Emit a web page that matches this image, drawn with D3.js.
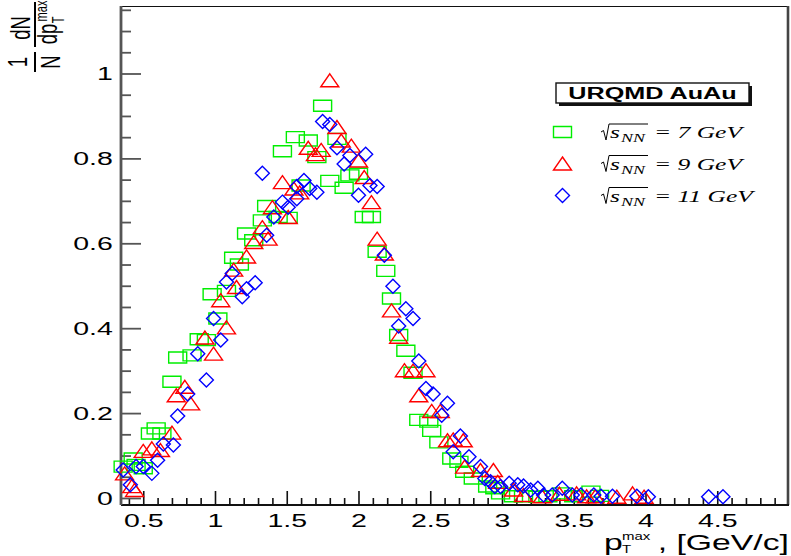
<!DOCTYPE html>
<html><head><meta charset="utf-8">
<script src="https://cdn.jsdelivr.net/npm/d3@7"></script>
<style>
html,body{margin:0;padding:0;background:#fff;}
svg{display:block;}
</style></head><body>
<svg id="c" width="791" height="556"></svg>
<script>
// Axis ticks and labels
const xTickValues = [0.5, 1, 1.5, 2, 2.5, 3, 3.5, 4, 4.5];
const xTickLabels = ["0.5", "1", "1.5", "2", "2.5", "3", "3.5", "4", "4.5"];
const yTickValues = [0, 0.2, 0.4, 0.6, 0.8, 1];
const yTickLabels = ["0", "0.2", "0.4", "0.6", "0.8", "1"];
const energies = ["7", "9", "11"];

// (pT^max [GeV/c], 1/N dN/dpT^max) for each beam energy
const pt7 = [[0.36,0.074],[0.43,0.093],[0.45,0.078],[0.50,0.070],[0.55,0.152],[0.59,0.164],[0.63,0.152],[0.70,0.274],[0.74,0.331],[0.84,0.336],[0.89,0.374],[0.94,0.372],[0.98,0.48],[1.02,0.423],[1.08,0.488],[1.13,0.566],[1.17,0.55],[1.22,0.623],[1.27,0.607],[1.33,0.654],[1.36,0.688],[1.44,0.662],[1.47,0.817],[1.51,0.66],[1.56,0.85],[1.60,0.736],[1.65,0.842],[1.71,0.803],[1.75,0.924],[1.80,0.747],[1.85,0.846],[1.90,0.731],[1.94,0.76],[2.00,0.764],[2.04,0.662],[2.09,0.662],[2.13,0.58],[2.19,0.535],[2.23,0.47],[2.28,0.384],[2.33,0.347],[2.38,0.295],[2.42,0.184],[2.49,0.18],[2.51,0.158],[2.56,0.131],[2.65,0.093],[2.70,0.085],[2.74,0.062],[2.80,0.046],[2.90,0.027],[2.95,0.023],[2.99,0.011],[3.08,0.004],[3.15,0.004],[3.25,0.003],[3.32,0.004],[3.42,0.011],[3.50,0.004],[3.62,0.015],[3.68,0.005]];
const pt9 = [[0.37,0.058],[0.42,0.028],[0.44,0.019],[0.50,0.111],[0.56,0.117],[0.62,0.113],[0.70,0.154],[0.73,0.242],[0.79,0.262],[0.83,0.223],[0.93,0.378],[0.99,0.34],[1.04,0.466],[1.08,0.402],[1.13,0.538],[1.15,0.497],[1.22,0.569],[1.27,0.603],[1.33,0.638],[1.37,0.611],[1.40,0.685],[1.47,0.744],[1.51,0.662],[1.55,0.729],[1.59,0.72],[1.65,0.825],[1.70,0.81],[1.74,0.82],[1.80,0.984],[1.85,0.874],[1.88,0.842],[1.95,0.83],[2.00,0.795],[2.04,0.756],[2.09,0.697],[2.13,0.611],[2.18,0.576],[2.23,0.442],[2.28,0.38],[2.32,0.301],[2.38,0.30],[2.42,0.242],[2.47,0.301],[2.51,0.205],[2.57,0.205],[2.62,0.136],[2.66,0.138],[2.73,0.136],[2.74,0.074],[2.85,0.066],[2.94,0.066],[2.97,0.038],[3.08,0.02],[3.15,0.007],[3.28,0.004],[3.40,0.01],[3.52,0.011],[3.59,0.004],[3.65,0.004],[3.80,0.003],[3.91,0.011],[3.99,0.003]];
const pt11 = [[0.36,0.066],[0.41,0.031],[0.45,0.074],[0.50,0.074],[0.56,0.058],[0.60,0.089],[0.64,0.127],[0.71,0.125],[0.74,0.193],[0.81,0.245],[0.88,0.34],[0.94,0.278],[0.99,0.423],[1.04,0.372],[1.08,0.509],[1.12,0.529],[1.19,0.474],[1.22,0.493],[1.28,0.507],[1.33,0.765],[1.36,0.619],[1.41,0.662],[1.47,0.697],[1.51,0.685],[1.57,0.705],[1.57,0.734],[1.62,0.748],[1.66,0.729],[1.71,0.72],[1.75,0.887],[1.80,0.88],[1.85,0.825],[1.90,0.787],[1.94,0.807],[2.00,0.713],[2.05,0.81],[2.08,0.736],[2.13,0.734],[2.18,0.572],[2.24,0.499],[2.28,0.405],[2.33,0.446],[2.38,0.423],[2.42,0.323],[2.47,0.258],[2.52,0.245],[2.58,0.195],[2.62,0.223],[2.66,0.109],[2.71,0.146],[2.77,0.097],[2.85,0.074],[2.88,0.046],[2.92,0.038],[2.95,0.027],[2.99,0.027],[3.05,0.035],[3.11,0.031],[3.15,0.028],[3.20,0.019],[3.25,0.023],[3.29,0.007],[3.35,0.007],[3.42,0.023],[3.49,0.007],[3.55,0.007],[3.64,0.007],[3.69,0.004],[3.77,0.004],[3.94,0.004],[4.02,0.003],[4.44,0.003],[4.54,0.003]];

const plot = {left: 121, right: 789, top: 6, bottom: 505};
const SX = 1.5;                 // horizontal stretch of all lettering
const SANS = "'Liberation Sans', Arial, Helvetica, sans-serif";
const SERIF = "'Liberation Serif', 'Times New Roman', serif";

const x = d3.scaleLinear().domain([0.345, 5.0]).range([plot.left, plot.right]);
const y = d3.scaleLinear().domain([-0.0165, 1.159]).range([plot.bottom, plot.top]);

const svg = d3.select("#c");
svg.append("rect").attr("width", 791).attr("height", 556).attr("fill", "#fff");

// ---- axes ----
const xMinor = d3.range(4, 50).map(v => v / 10).filter(v => Math.abs(v * 2 - Math.round(v * 2)) > 1e-6);
const yMinor = d3.range(0, 24).map(v => v * 0.05).filter(v => Math.abs(v * 5 - Math.round(v * 5)) > 1e-6 && v <= 1.159);

const gxMinor = svg.append("g").attr("transform", `translate(0,${plot.bottom})`)
  .call(d3.axisBottom(x).tickValues(xMinor).tickSize(-7).tickSizeOuter(0).tickFormat(""));
const gxMajor = svg.append("g").attr("transform", `translate(0,${plot.bottom})`)
  .call(d3.axisBottom(x).tickValues(xTickValues).tickSize(-14).tickSizeOuter(0).tickPadding(9)
    .tickFormat((d, i) => xTickLabels[i]));
const gyMinor = svg.append("g").attr("transform", `translate(${plot.left},0)`)
  .call(d3.axisLeft(y).tickValues(yMinor).tickSize(-10).tickSizeOuter(0).tickFormat(""));
const gyMajor = svg.append("g").attr("transform", `translate(${plot.left},0)`)
  .call(d3.axisLeft(y).tickValues(yTickValues).tickSize(-20).tickSizeOuter(0).tickPadding(5.5)
    .tickFormat((d, i) => yTickLabels[i]));

[gxMinor, gxMajor, gyMinor, gyMajor].forEach(g => g.select(".domain").remove());
[gxMinor, gxMajor].forEach(g => g.selectAll(".tick line").attr("stroke", "#111").attr("stroke-width", 1.6));
[gyMinor, gyMajor].forEach(g => g.selectAll(".tick line").attr("stroke", "#555").attr("stroke-width", 1.8));
[gxMajor, gyMajor].forEach(g => g.selectAll(".tick text")
  .attr("font-family", SANS).attr("font-size", 19).attr("fill", "#000")
  .attr("transform", `scale(${SX},1)`));

// ---- frame ----
const frame = svg.append("g");
frame.append("line").attr("x1", plot.left).attr("x2", plot.right).attr("y1", plot.top + 0.5).attr("y2", plot.top + 0.5)
  .attr("stroke", "#111").attr("stroke-width", 1.2);
frame.append("line").attr("x1", plot.right - 1).attr("x2", plot.right - 1).attr("y1", plot.top).attr("y2", plot.bottom)
  .attr("stroke", "#444").attr("stroke-width", 2.6);
frame.append("line").attr("x1", plot.left).attr("x2", plot.right).attr("y1", plot.bottom).attr("y2", plot.bottom)
  .attr("stroke", "#111").attr("stroke-width", 2);
frame.append("line").attr("x1", plot.left).attr("x2", plot.left).attr("y1", plot.top).attr("y2", plot.bottom)
  .attr("stroke", "#555").attr("stroke-width", 2.8);

// ---- marker shapes (open, ROOT-like) ----
const shapes = {
  square: (w, h) => `M${-w/2},${-h/2}H${w/2}V${h/2}H${-w/2}Z`,
  triangle: (w, h) => `M0,${-h/2}L${w/2},${h/2}H${-w/2}Z`,
  diamond: (w, h) => `M0,${-h/2}L${w/2},0L0,${h/2}L${-w/2},0Z`
};
const styles = [
  {data: pt7, color: "#00ee00", shape: "square", w: 18, h: 11},
  {data: pt9, color: "#ff0000", shape: "triangle", w: 18, h: 13},
  {data: pt11, color: "#0000ff", shape: "diamond", w: 14, h: 14}
];

const gData = svg.append("g");
styles.forEach(s => {
  gData.append("g").selectAll("path").data(s.data).join("path")
    .attr("transform", d => `translate(${x(d[0])},${y(d[1])})`)
    .attr("d", shapes[s.shape](s.w, s.h))
    .attr("fill", "none").attr("stroke", s.color).attr("stroke-width", 1.4);
});

// ---- legend ----
const lg = svg.append("g");
lg.append("rect").attr("x", 559).attr("y", 86).attr("width", 193).attr("height", 20).attr("fill", "#111");
lg.append("rect").attr("x", 556).attr("y", 83).attr("width", 193).attr("height", 20)
  .attr("fill", "#fff").attr("stroke", "#111").attr("stroke-width", 1.4);
lg.append("text").attr("transform", `translate(652.5,99) scale(${SX},1)`)
  .attr("text-anchor", "middle").attr("font-family", SANS).attr("font-weight", "bold").attr("font-size", 16.8)
  .text("URQMD AuAu");

const rowY = [132, 163.5, 195.5];
styles.forEach((s, i) => {
  lg.append("path").attr("transform", `translate(562.5,${rowY[i]})`)
    .attr("d", shapes[s.shape](s.w, s.h))
    .attr("fill", "none").attr("stroke", s.color).attr("stroke-width", 1.4);
  const b = rowY[i] + 6;       // baseline of the entry text
  const x0 = 601;
  lg.append("path")
    .attr("d", `M${x0},${b-6}L${x0+2.5},${b-7.5}L${x0+5},${b+2}L${x0+8},${b-14}H${x0+47}`)
    .attr("fill", "none").attr("stroke", "#000").attr("stroke-width", 1);
  lg.append("text").attr("transform", `translate(${x0+9},${b}) scale(${SX},1)`)
    .attr("font-family", SERIF).attr("font-style", "italic").attr("font-size", 17).text("s");
  lg.append("text").attr("transform", `translate(${x0+20},${b+4}) scale(${SX},1)`)
    .attr("font-family", SERIF).attr("font-style", "italic").attr("font-size", 12).text("NN");
  lg.append("text").attr("transform", `translate(654,${b}) scale(${SX},1)`)
    .attr("font-family", SERIF).attr("font-style", "italic").attr("font-size", 17)
    .text(`= ${energies[i]} GeV`);
});

// ---- axis titles ----
const tt = svg.append("g").attr("font-family", SANS).attr("fill", "#000");
tt.append("text").attr("transform", `translate(789,550) scale(${SX},1)`).attr("text-anchor", "end")
  .attr("font-size", 22.5).text(", [GeV/c]");
tt.append("text").attr("transform", `translate(604,550) scale(${SX},1)`).attr("font-size", 22.5).text("p");
tt.append("text").attr("transform", `translate(622,540) scale(${SX},1)`).attr("font-size", 10).text("max");
tt.append("text").attr("transform", `translate(622,553) scale(${SX},1)`).attr("font-size", 10).text("T");

// y title: 1/N dN/dp_T^max, reading upwards
function vtext(cx, cy, size, str) {
  tt.append("text").attr("transform", `translate(${cx},${cy}) scale(${SX},1) rotate(-90)`)
    .attr("font-size", size).attr("text-anchor", "middle").attr("dominant-baseline", "central").text(str);
}
vtext(18, 62, 18.5, "1");
vtext(51, 62, 18.5, "N");
tt.append("line").attr("x1", 35).attr("x2", 35).attr("y1", 52).attr("y2", 72).attr("stroke", "#000").attr("stroke-width", 2);
vtext(21, 28, 18.5, "dN");
tt.append("line").attr("x1", 35).attr("x2", 35).attr("y1", 2).attr("y2", 47).attr("stroke", "#000").attr("stroke-width", 2);
vtext(48, 34, 18.5, "dp");
vtext(41, 11, 11, "max");
vtext(58, 20, 11, "T");
</script>
</body></html>
